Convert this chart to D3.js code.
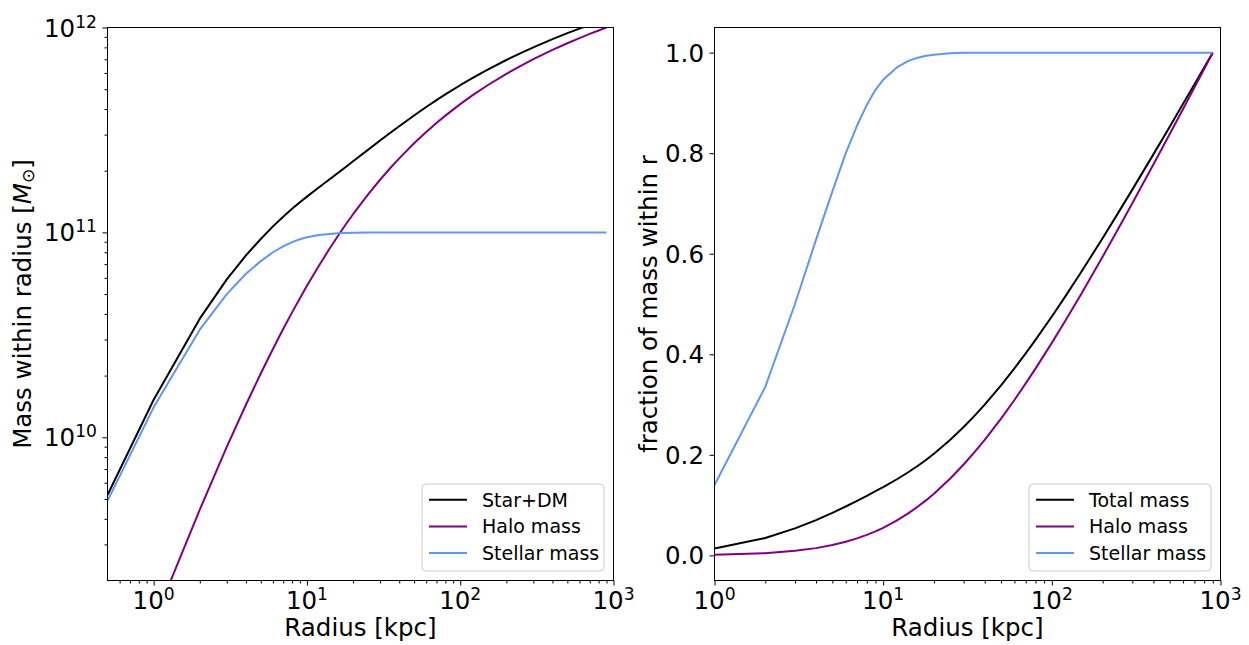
<!DOCTYPE html>
<html>
<head>
<meta charset="utf-8">
<script src="https://cdn.jsdelivr.net/npm/d3@7"></script>
<style>
  html, body { margin: 0; padding: 0; background: #fff; }
  svg { display: block; font-family: "DejaVu Sans", sans-serif; }
</style>
</head>
<body>
<svg id="chart" width="1249" height="645"></svg>
<script>
// ---------- data ----------
const radii = [0.5,1,2,3,4,5,6,7,8,9,10,12,14,16,18,20,25,30,35,40,50,60,70,80,100,120,150,200,250,300,400,500,600,700,800,900];
const starDM = [5.23e9,1.525e10,3.794e10,5.897e10,7.721e10,9.288e10,1.0697e11,1.1925e11,1.303e11,1.4034e11,1.4943e11,1.6599e11,1.8125e11,1.9558e11,2.0922e11,2.2225e11,2.528e11,2.807e11,3.062e11,3.298e11,3.721e11,4.091e11,4.420e11,4.715e11,5.227e11,5.662e11,6.211e11,6.940e11,7.521e11,8.003e11,8.774e11,9.380e11,9.880e11,1.0304e12,1.0673e12,1.1e12];
const haloMass = [3.33e8,1.25e9,4.44e9,8.97e9,1.441e10,2.048e10,2.697e10,3.375e10,4.07e10,4.774e10,5.483e10,6.899e10,8.295e10,9.658e10,1.0982e11,1.2265e11,1.529e11,1.807e11,2.062e11,2.298e11,2.721e11,3.091e11,3.420e11,3.715e11,4.227e11,4.662e11,5.211e11,5.940e11,6.521e11,7.003e11,7.774e11,8.380e11,8.880e11,9.304e11,9.673e11,1.0e12];
const stellarMass = [4.9e9,1.40e10,3.35e10,5.00e10,6.28e10,7.24e10,8.00e10,8.55e10,8.96e10,9.26e10,9.46e10,9.70e10,9.83e10,9.90e10,9.94e10,9.96e10,9.99e10,1e11,1e11,1e11,1e11,1e11,1e11,1e11,1e11,1e11,1e11,1e11,1e11,1e11,1e11,1e11,1e11,1e11,1e11,1e11];

const radiiFrac = [1,2,3,4,5,6,7,8,9,10,12,14,16,18,20,25,30,35,40,50,60,70,80,100,120,150,200,250,300,400,500,600,700,800,900];
const totalFrac = [0.01386,0.0345,0.0536,0.0702,0.0844,0.0972,0.1084,0.1185,0.1276,0.1358,0.1509,0.1648,0.1778,0.1902,0.2020,0.2298,0.2552,0.2784,0.2998,0.3383,0.3719,0.4018,0.4286,0.4752,0.5147,0.5646,0.6309,0.6837,0.7275,0.7976,0.8527,0.8982,0.9367,0.9703,1.0];
const haloFrac = [0.00125,0.00444,0.00897,0.01441,0.02048,0.02697,0.03375,0.0407,0.04774,0.05483,0.06899,0.08295,0.09658,0.10982,0.12265,0.1529,0.1807,0.2062,0.2298,0.2721,0.3091,0.3420,0.3715,0.4227,0.4662,0.5211,0.5940,0.6521,0.7003,0.7774,0.8380,0.8880,0.9304,0.9673,1.0];
const stellarFrac = [0.140,0.335,0.500,0.628,0.724,0.800,0.855,0.896,0.926,0.946,0.970,0.983,0.990,0.994,0.996,0.999,1,1,1,1,1,1,1,1,1,1,1,1,1,1,1,1,1,1,1];

const leftLegend = ["Star+DM", "Halo mass", "Stellar mass"];
const rightLegend = ["Total mass", "Halo mass", "Stellar mass"];
const leftYTickExp = [10, 11, 12];
const xTickExpLeft = [0, 1, 2, 3];
const xTickExpRight = [0, 1, 2, 3];
const rightYTicks = [0.0, 0.2, 0.4, 0.6, 0.8, 1.0];

const colors = ["#000000", "#800080", "#6495ED"];

// ---------- layout ----------
const svg = d3.select("#chart");
const FS = 24.5, LFS = 19;
const T = 27.5, B = 580.5;
const P1 = {l: 107.5, r: 613.5};
const P2 = {l: 714.5, r: 1220.5};

const x1 = d3.scaleLog().domain([0.5, 1000]).range([P1.l, P1.r]);
const y1 = d3.scaleLog().domain([2e9, 1e12]).range([B, T]);
const x2 = d3.scaleLog().domain([1, 1000]).range([P2.l, P2.r]);
const y2 = d3.scaleLinear().domain([-0.05, 1.05]).range([B, T]);

const defs = svg.append("defs");
function clip(id, P) {
  defs.append("clipPath").attr("id", id).append("rect")
    .attr("x", P.l).attr("y", T).attr("width", P.r - P.l).attr("height", B - T);
}
clip("c1", P1); clip("c2", P2);

function minorLog(lo, hi) {
  const out = [];
  for (let e = Math.floor(Math.log10(lo)); e <= Math.ceil(Math.log10(hi)); e++) {
    for (let k = 2; k <= 9; k++) {
      const v = k * Math.pow(10, e);
      if (v >= lo * 0.999 && v <= hi * 1.001) out.push(v);
    }
  }
  return out;
}

function tickAxis(g, axis) {
  g.call(axis);
  g.select(".domain").remove();
  g.selectAll(".tick line").attr("stroke", "#000").attr("stroke-width", 1);
  g.selectAll(".tick text").remove();
}

function powLabel(g, x, y, exp, anchor) {
  const t = g.append("text").attr("x", x).attr("y", y)
    .attr("text-anchor", anchor).attr("font-size", FS).attr("fill", "#000");
  t.append("tspan").text("10");
  t.append("tspan").attr("dy", -9).attr("font-size", FS * 0.7).text(exp);
}

function lines(clipId, xs, xd, ys, series) {
  const g = svg.append("g").attr("clip-path", `url(#${clipId})`);
  series.forEach((vals, i) => {
    const line = d3.line().x((d, j) => xs(xd[j])).y(d => ys(d));
    g.append("path").datum(vals).attr("d", line)
      .attr("fill", "none").attr("stroke", colors[i]).attr("stroke-width", 2)
      .attr("stroke-linejoin", "round");
  });
}

function legend(P, labels) {
  const w = 182, h = 87;
  const lx = P.r - 9.5 - w, ly = B - 9.5 - h;
  const g = svg.append("g");
  g.append("rect").attr("x", lx).attr("y", ly).attr("width", w).attr("height", h)
    .attr("rx", 4).attr("fill", "#fff").attr("fill-opacity", 0.8)
    .attr("stroke", "#cccccc").attr("stroke-width", 1);
  labels.forEach((lab, i) => {
    const cy = ly + 15.7 + i * 26.7;
    g.append("line").attr("x1", lx + 7).attr("x2", lx + 45).attr("y1", cy).attr("y2", cy)
      .attr("stroke", colors[i]).attr("stroke-width", 2);
    g.append("text").attr("x", lx + 60).attr("y", cy + 7).attr("font-size", LFS)
      .attr("fill", "#000").text(lab);
  });
}

function frame(P) {
  svg.append("rect").attr("x", P.l).attr("y", T).attr("width", P.r - P.l).attr("height", B - T)
    .attr("fill", "none").attr("stroke", "#000").attr("stroke-width", 1);
}

// ---------- left panel ----------
lines("c1", x1, radii, y1, [starDM, haloMass, stellarMass]);

const gx1 = svg.append("g").attr("transform", `translate(0,${B})`);
tickAxis(gx1.append("g"), d3.axisBottom(x1).tickValues(xTickExpLeft.map(e => Math.pow(10, e))).tickSize(5).tickSizeOuter(0).tickFormat(""));
tickAxis(gx1.append("g"), d3.axisBottom(x1).tickValues(minorLog(0.5, 1000).filter(v => v > 0.5 && v < 1000)).tickSize(3).tickSizeOuter(0).tickFormat(""));
xTickExpLeft.forEach(e => powLabel(svg, x1(Math.pow(10, e)), B + 28, e, "middle"));

const gy1 = svg.append("g").attr("transform", `translate(${P1.l},0)`);
tickAxis(gy1.append("g"), d3.axisLeft(y1).tickValues(leftYTickExp.map(e => Math.pow(10, e))).tickSize(5).tickSizeOuter(0).tickFormat(""));
tickAxis(gy1.append("g"), d3.axisLeft(y1).tickValues(minorLog(2e9, 1e12).filter(v => v > 2e9 && v < 1e12)).tickSize(3).tickSizeOuter(0).tickFormat(""));
leftYTickExp.forEach(e => powLabel(svg, P1.l - 10.5, y1(Math.pow(10, e)) + 9, e, "end"));

frame(P1);
legend(P1, leftLegend);

svg.append("text").attr("x", (P1.l + P1.r) / 2).attr("y", 635.5).attr("text-anchor", "middle")
  .attr("font-size", FS).attr("fill", "#000").text("Radius [kpc]");
{
  const t = svg.append("text").attr("text-anchor", "middle").attr("font-size", FS).attr("fill", "#000")
    .attr("transform", `translate(30.5,${(T + B) / 2}) rotate(-90)`);
  t.append("tspan").text("Mass within radius [");
  t.append("tspan").attr("font-style", "italic").text("M");
  t.append("tspan").attr("font-size", FS * 0.7).attr("dy", 3.5).text("\u2299");
  t.append("tspan").attr("dy", -3.5).text("]");
}

// ---------- right panel ----------
lines("c2", x2, radiiFrac, y2, [totalFrac, haloFrac, stellarFrac]);

const gx2 = svg.append("g").attr("transform", `translate(0,${B})`);
tickAxis(gx2.append("g"), d3.axisBottom(x2).tickValues(xTickExpRight.map(e => Math.pow(10, e))).tickSize(5).tickSizeOuter(0).tickFormat(""));
tickAxis(gx2.append("g"), d3.axisBottom(x2).tickValues(minorLog(1, 1000).filter(v => v > 1 && v < 1000)).tickSize(3).tickSizeOuter(0).tickFormat(""));
xTickExpRight.forEach(e => powLabel(svg, x2(Math.pow(10, e)), B + 28, e, "middle"));

const gy2 = svg.append("g").attr("transform", `translate(${P2.l},0)`);
tickAxis(gy2.append("g"), d3.axisLeft(y2).tickValues(rightYTicks).tickSize(5).tickSizeOuter(0).tickFormat(""));
rightYTicks.forEach(v => svg.append("text").attr("x", P2.l - 10.5).attr("y", y2(v) + 9)
  .attr("text-anchor", "end").attr("font-size", FS).attr("fill", "#000").text(d3.format(".1f")(v)));

frame(P2);
legend(P2, rightLegend);

svg.append("text").attr("x", (P2.l + P2.r) / 2).attr("y", 635.5).attr("text-anchor", "middle")
  .attr("font-size", FS).attr("fill", "#000").text("Radius [kpc]");
svg.append("text").attr("text-anchor", "middle").attr("font-size", FS).attr("fill", "#000")
  .attr("transform", `translate(656.5,${(T + B) / 2}) rotate(-90)`)
  .text("fraction of mass within r");
</script>
</body>
</html>
